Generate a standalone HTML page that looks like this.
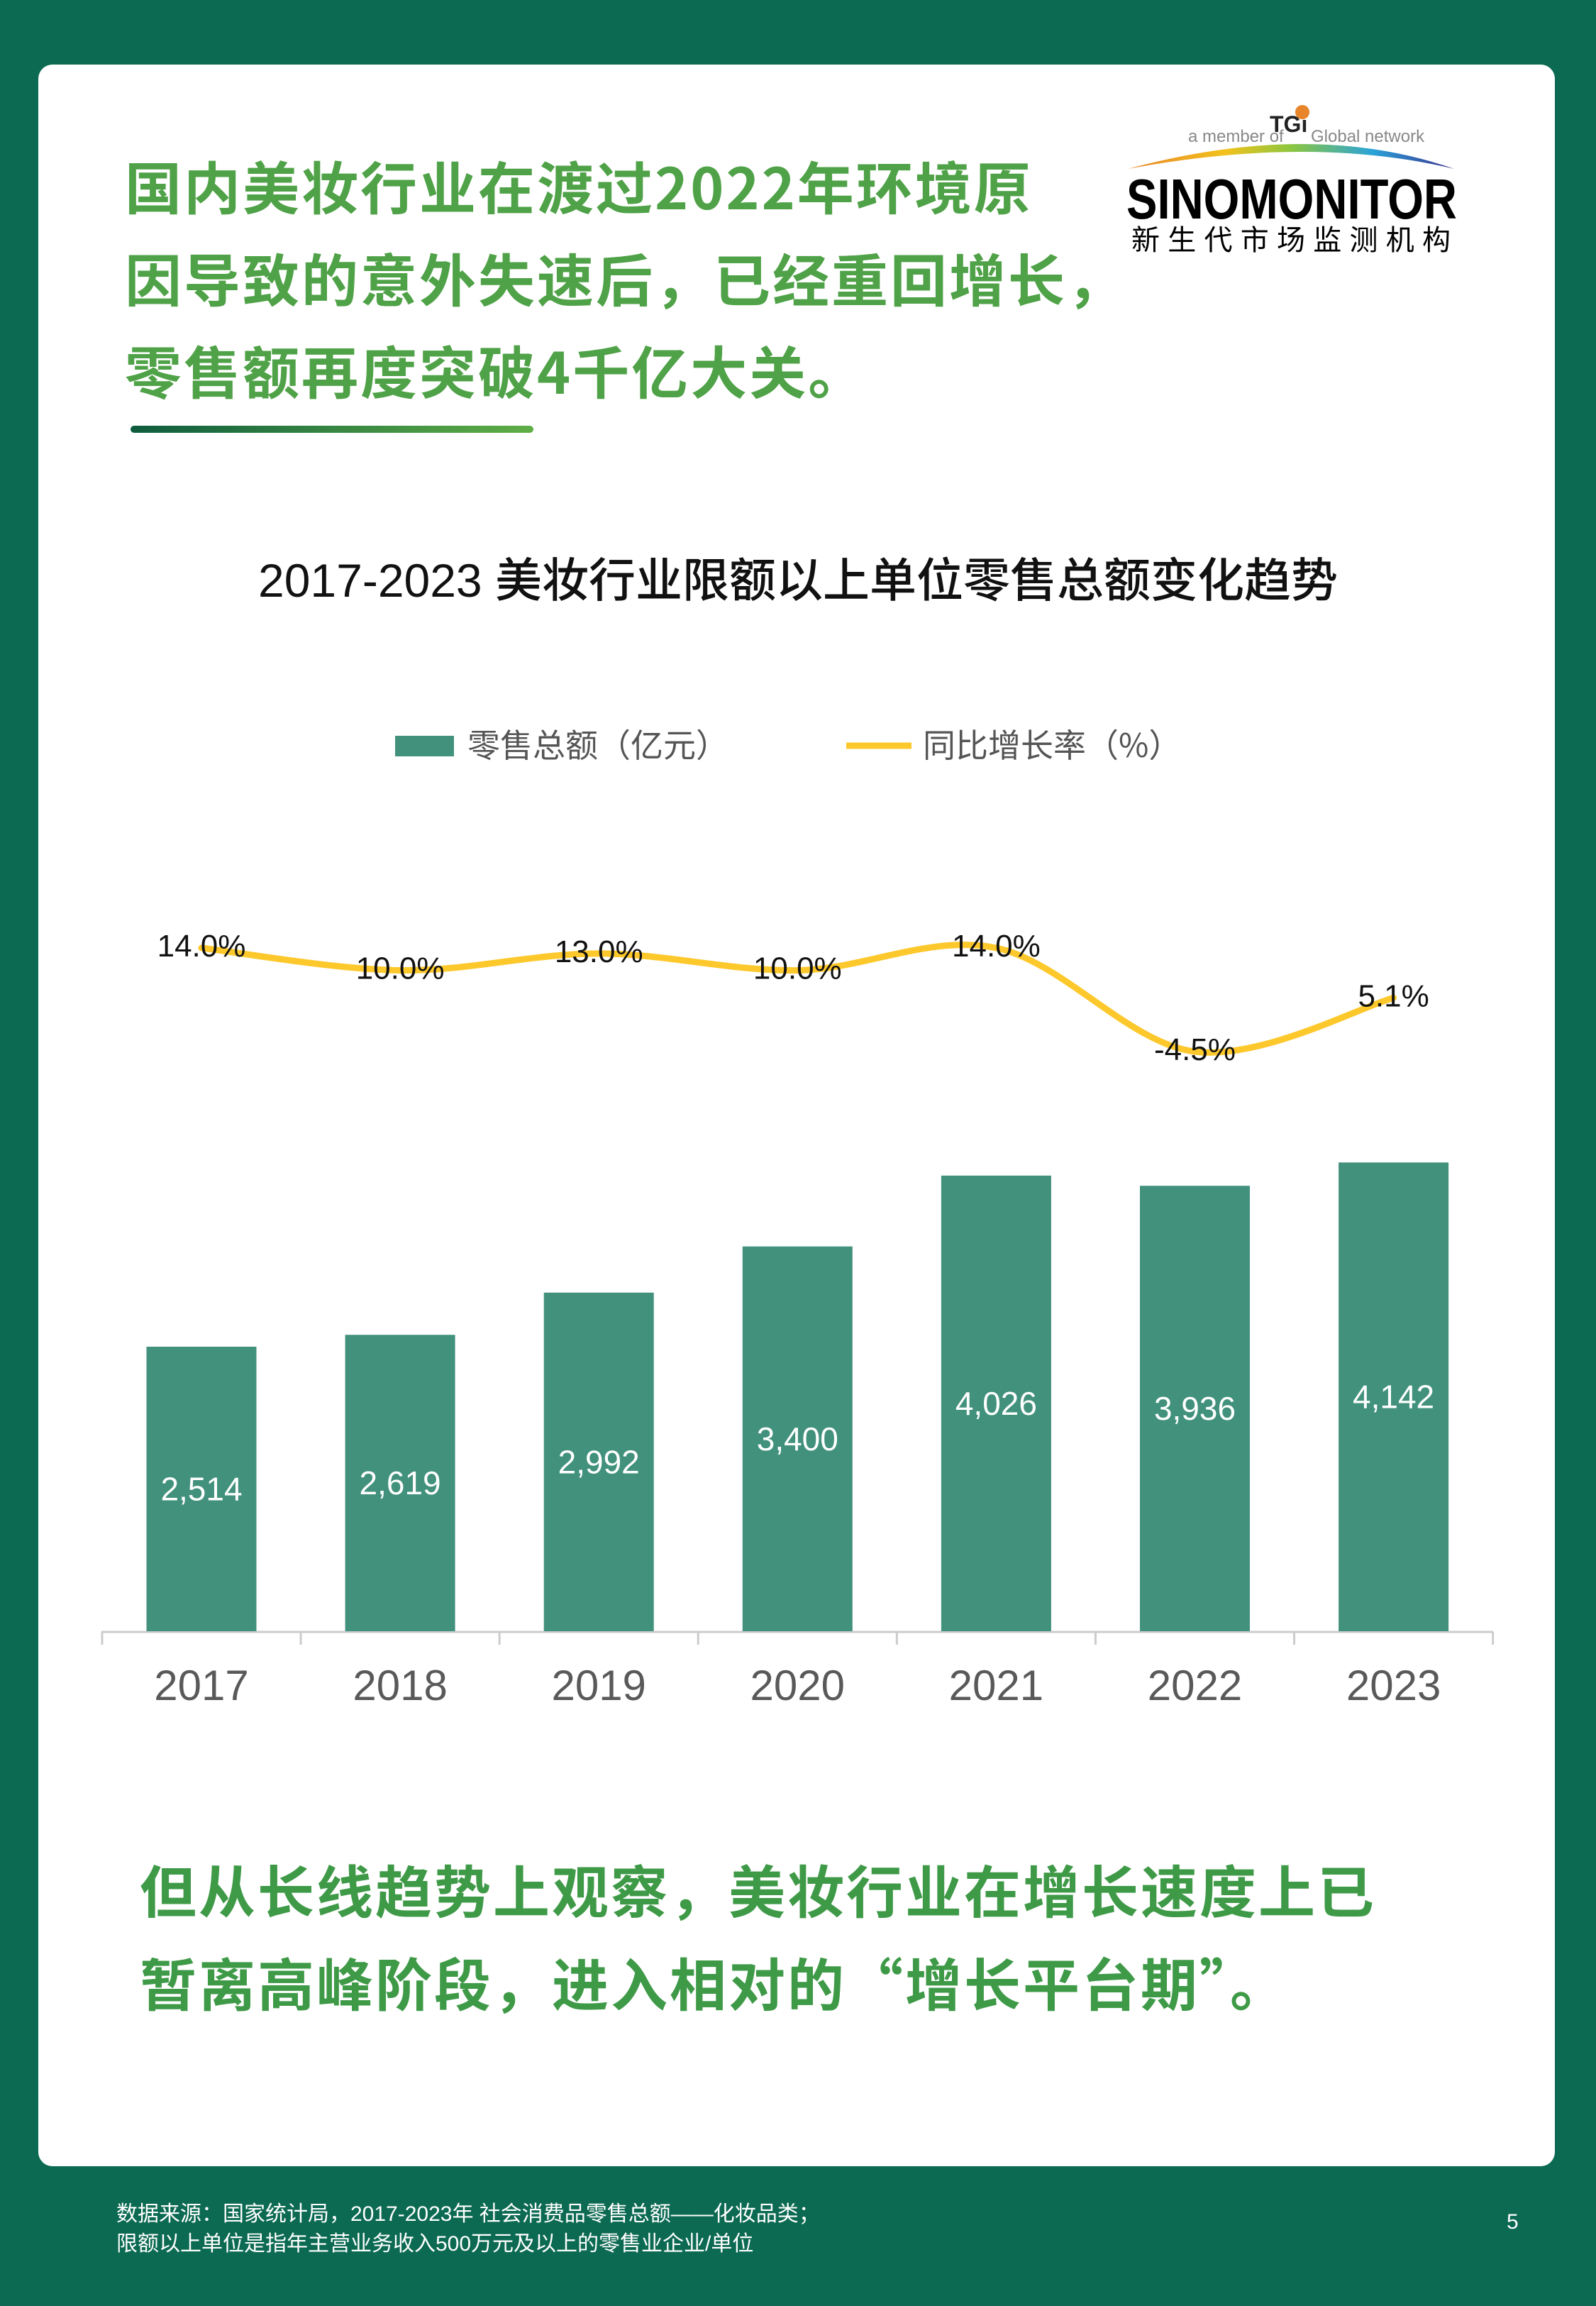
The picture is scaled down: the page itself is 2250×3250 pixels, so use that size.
<!DOCTYPE html>
<html><head><meta charset="utf-8">
<style>
html,body{margin:0;padding:0}
body{width:2250px;height:3250px;background:#0c6a52;position:relative;overflow:hidden;font-family:"Liberation Sans","Noto Sans CJK SC",sans-serif}
#card{position:absolute;left:54px;top:91px;width:2138px;height:2962px;background:#fff;border-radius:20px}
.t{position:absolute;white-space:nowrap}
</style></head><body>
<div id="card"></div>
<div class="t" style="left:176px;top:196px;font-size:80px;line-height:130px;letter-spacing:3px;font-weight:bold;color:#4fa247;font-family:'Noto Sans CJK SC',sans-serif">国内美妆行业在渡过2022年环境原<br>因导致的意外失速后，已经重回增长，<br>零售额再度突破4千亿大关。</div>
<div style="position:absolute;left:184px;top:600px;width:568px;height:10px;border-radius:5px;background:linear-gradient(90deg,#0e5c3e,#5fae46)"></div>
<svg style="position:absolute;left:1550px;top:120px" width="600" height="260">
<defs><linearGradient id="rb" x1="0" x2="1"><stop offset="0" stop-color="#e8842a"/><stop offset="0.3" stop-color="#f2c21c"/><stop offset="0.5" stop-color="#8cc63f"/><stop offset="0.75" stop-color="#2aa3d9"/><stop offset="1" stop-color="#3b2f8f"/></linearGradient></defs>
<text x="125" y="80" font-size="24" fill="#888" font-family="Liberation Sans">a member of</text>
<text x="240" y="66" font-size="32" font-weight="bold" fill="#222" font-family="Liberation Sans">TGi</text>
<circle cx="286" cy="38" r="10" fill="#e8842a"/>
<text x="298" y="80" font-size="24" fill="#888" font-family="Liberation Sans">Global network</text>
<path d="M40,118 Q300,48 500,118 Q300,70 40,118Z" fill="url(#rb)"/>
<text x="38" y="188" font-size="80" font-weight="bold" fill="#000" font-family="Liberation Sans" textLength="466" lengthAdjust="spacingAndGlyphs">SINOMONITOR</text>
<text x="45" y="232" font-size="40" fill="#000" font-family="Noto Sans CJK SC,sans-serif" textLength="450">新生代市场监测机构</text>
</svg>
<div class="t" style="left:0;width:2250px;text-align:center;top:776px;font-size:66px;line-height:84px;color:#111;font-family:'Liberation Sans','Noto Sans CJK SC',sans-serif;font-weight:500">2017-2023 美妆行业限额以上单位零售总额变化趋势</div>
<svg id="chart" style="position:absolute;left:0;top:0" width="2250" height="2500"></svg>
<div class="t" style="left:197px;top:2597px;font-size:80px;line-height:131px;letter-spacing:3px;font-weight:bold;color:#3f9a48;font-family:'Noto Sans CJK SC',sans-serif">但从长线趋势上观察，美妆行业在增长速度上已<br>暂离高峰阶段，进入相对的“增长平台期”。</div>
<div class="t" style="left:164px;top:3100px;font-size:30px;line-height:42px;color:#fff;font-family:'Liberation Sans','Noto Sans CJK SC',sans-serif">数据来源：国家统计局，2017-2023年 社会消费品零售总额——化妆品类；<br>限额以上单位是指年主营业务收入500万元及以上的零售业企业/单位</div>
<div class="t" style="left:2124px;top:3115px;font-size:30px;color:#fff">5</div>
<script>
const years=["2017","2018","2019","2020","2021","2022","2023"];
const sales=[2514,2619,2992,3400,4026,3936,4142];
const salesLabels=["2,514","2,619","2,992","3,400","4,026","3,936","4,142"];
const growth=[14.0,10.0,13.0,10.0,14.0,-4.5,5.1];
const growthLabels=["14.0%","10.0%","13.0%","10.0%","14.0%","-4.5%","5.1%"];
const svg=document.getElementById('chart');
const NS='http://www.w3.org/2000/svg';
function mk(t,a){const e=document.createElementNS(NS,t);for(const k in a)e.setAttribute(k,a[k]);svg.appendChild(e);return e;}
const x0=284,step=280.1,base=2299,bw=155;
const xc=i=>x0+i*step;
const yb=v=>base-v*0.1595;
const yl=v=>1336+(14-v)*7.9;
let e=mk('rect',{x:557,y:1037,width:83,height:29,fill:'#41917c'});


e=mk('text',{x:659,y:1067,'font-size':46,fill:'#555','font-family':'Noto Sans CJK SC,sans-serif'});e.textContent='零售总额（亿元）';


e=mk('line',{x1:1193,x2:1285,y1:1051,y2:1051,stroke:'#fdc82c','stroke-width':9});


e=mk('text',{x:1301,y:1067,'font-size':46,fill:'#555','font-family':'Noto Sans CJK SC,sans-serif'});e.textContent='同比增长率（%）';


e=mk('line',{x1:143,x2:2105,y1:2300,y2:2300,stroke:'#ccc','stroke-width':3});


for(let i=0;i<=years.length;i++){const tx=xc(i)-step/2;e=mk('line',{x1:tx,x2:tx,y1:2300,y2:2318,stroke:'#ccc','stroke-width':3});

}
years.forEach((y,i)=>{
 let r=mk('rect',{x:xc(i)-bw/2,y:yb(sales[i]),width:bw,height:base-yb(sales[i]),fill:'#41917c'});
 
 
 let t=mk('text',{x:xc(i),y:(yb(sales[i])+base)/2+16,'font-size':46,fill:'#fff','text-anchor':'middle','font-family':'Liberation Sans'});t.textContent=salesLabels[i];
 
 
 let l=mk('text',{x:xc(i),y:2396,'font-size':60,fill:'#595959','text-anchor':'middle','font-family':'Liberation Sans'});l.textContent=y;
 
 
});
const pts=growth.map((v,i)=>[xc(i),yl(v)]);
let d='M'+pts[0][0]+','+pts[0][1];
for(let i=0;i<pts.length-1;i++){const p0=pts[Math.max(0,i-1)],p1=pts[i],p2=pts[i+1],p3=pts[Math.min(pts.length-1,i+2)];
 d+=` C${p1[0]+(p2[0]-p0[0])/6},${p1[1]+(p2[1]-p0[1])/6} ${p2[0]-(p3[0]-p1[0])/6},${p2[1]-(p3[1]-p1[1])/6} ${p2[0]},${p2[1]}`;}
e=mk('path',{d:d,fill:'none',stroke:'#fdc82c','stroke-width':9,'stroke-linecap':'round'});


growth.forEach((v,i)=>{
 let t=mk('text',{x:xc(i),y:yl(v)+12,'font-size':44,fill:'#111','text-anchor':'middle','font-family':'Liberation Sans'});t.textContent=growthLabels[i];
 
 
});
</script>
</body></html>
